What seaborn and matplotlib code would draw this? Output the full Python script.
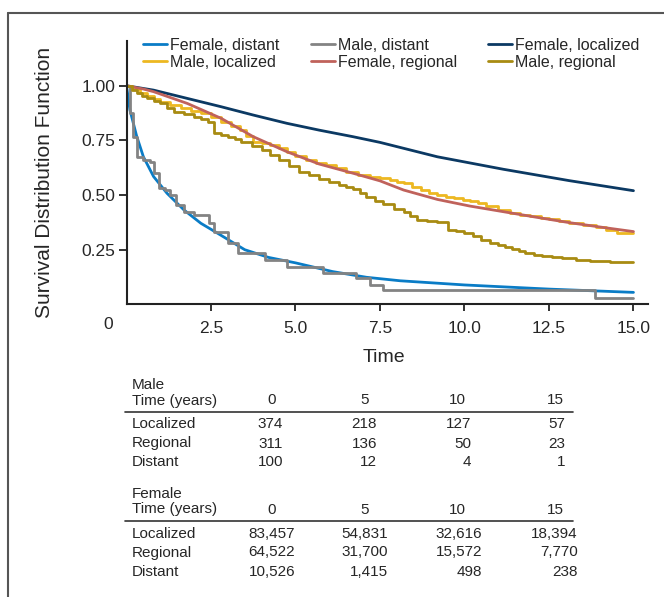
import matplotlib
matplotlib.use('Agg')
import matplotlib.pyplot as plt
import seaborn as sns
from matplotlib.lines import Line2D

# survival curves (time in years, survival)
fem_dist_t = [0, 0.1, 0.3, 0.5, 0.8, 1.2, 1.7, 2.2, 2.7, 3.5, 4.2, 5.0, 6.1, 7.1, 8.1, 10.0, 12.5, 15.0]
fem_dist_s = [1.0, 0.89, 0.77, 0.675, 0.585, 0.508, 0.432, 0.371, 0.325, 0.25, 0.215, 0.19, 0.15, 0.124, 0.108, 0.089, 0.07, 0.055]

male_dist_t = [0, 0.1, 0.2, 0.3, 0.5, 0.7, 0.8, 0.95, 1.15, 1.3, 1.45, 1.7, 2.0, 2.45, 2.6, 3.0, 3.3,
               4.1, 4.75, 5.8, 6.8, 7.2, 7.6, 13.85, 15.0]
male_dist_s = [1.0, 0.874, 0.767, 0.675, 0.66, 0.652, 0.6, 0.531, 0.523, 0.5, 0.455, 0.424, 0.409, 0.371, 0.33, 0.28, 0.234,
               0.203, 0.172, 0.142, 0.119, 0.089, 0.066, 0.031, 0.031]

fem_loc_t = [0, 0.8, 1.8, 2.8, 3.75, 4.75, 5.7, 6.7, 7.5, 9.2, 11.15, 13.1, 15.0]
fem_loc_s = [1.0, 0.98, 0.942, 0.904, 0.866, 0.828, 0.797, 0.767, 0.741, 0.675, 0.618, 0.566, 0.52]

male_loc_t = [0, 0.15, 0.4, 0.6, 0.8, 1.0, 1.3, 1.6, 1.9, 2.2,
              2.5, 2.8, 3.1, 3.35, 3.55, 3.75, 4.0, 4.25, 4.5, 4.75,
              5.0, 5.3, 5.6, 5.9, 6.2, 6.5, 6.85, 7.2, 7.5, 7.8,
              8.0, 8.2, 8.45, 8.7, 8.95, 9.2, 9.45, 9.7, 9.95, 10.15,
              10.4, 10.65, 11.0, 11.35, 11.65, 11.95, 12.25, 12.5, 12.8, 13.1,
              13.5, 13.9, 14.2, 14.5, 15.0]
male_loc_s = [1.0, 0.985, 0.965, 0.952, 0.94, 0.927, 0.912, 0.897, 0.886, 0.874,
              0.855, 0.835, 0.815, 0.797, 0.77, 0.744, 0.737, 0.729, 0.713, 0.698,
              0.68, 0.66, 0.648, 0.637, 0.622, 0.607, 0.594, 0.581, 0.577, 0.569,
              0.562, 0.554, 0.538, 0.523, 0.511, 0.5, 0.492, 0.485, 0.479, 0.474,
              0.462, 0.45, 0.434, 0.419, 0.411, 0.404, 0.396, 0.389, 0.38, 0.371,
              0.361, 0.352, 0.34, 0.328, 0.325]

fem_reg_t = [0, 0.5, 0.8, 1.8, 2.8, 3.75, 4.75, 5.7, 6.7, 7.5, 8.2, 9.2, 10.15, 11.15, 12.15, 13.1, 14.1, 15.0]
fem_reg_s = [1.0, 0.985, 0.973, 0.919, 0.851, 0.767, 0.698, 0.642, 0.6, 0.565, 0.523, 0.48, 0.45, 0.424, 0.398, 0.374, 0.352, 0.333]

male_reg_t = [0, 0.15, 0.3, 0.45, 0.6, 0.8, 1.0, 1.2, 1.4, 1.7,
              2.0, 2.2, 2.4, 2.6, 2.8, 3.0, 3.2, 3.4, 3.7, 4.0,
              4.25, 4.5, 4.8, 5.1, 5.4, 5.7, 6.0, 6.3, 6.5, 6.7,
              6.9, 7.1, 7.35, 7.6, 7.9, 8.2, 8.4, 8.6, 8.9, 9.2,
              9.5, 9.75, 10.0, 10.25, 10.5, 10.75, 11.0, 11.2, 11.4, 11.6,
              11.8, 12.05, 12.3, 12.6, 12.9, 13.3, 13.7, 14.3, 15.0]
male_reg_s = [1.0, 0.98, 0.965, 0.952, 0.942, 0.93, 0.919, 0.9, 0.881, 0.87,
              0.858, 0.846, 0.835, 0.782, 0.775, 0.767, 0.756, 0.744, 0.725, 0.706,
              0.683, 0.66, 0.634, 0.607, 0.59, 0.572, 0.559, 0.546, 0.538, 0.53,
              0.51, 0.49, 0.475, 0.459, 0.435, 0.424, 0.405, 0.386, 0.382, 0.378,
              0.34, 0.334, 0.328, 0.311, 0.294, 0.283, 0.272, 0.262, 0.252, 0.243,
              0.233, 0.227, 0.221, 0.216, 0.211, 0.205, 0.2, 0.196, 0.193]

# number at risk table
time_cols = ['0', '5', '10', '15']
row_names = ['Localized', 'Regional', 'Distant']
male_counts = [[374, 218, 127, 57], [311, 136, 50, 23], [100, 12, 4, 1]]
female_counts = [[83457, 54831, 32616, 18394], [64522, 31700, 15572, 7770], [10526, 1415, 498, 238]]

sns.set_style('ticks')
plt.rcParams['font.family'] = ['Liberation Sans', 'DejaVu Sans']

W, H = 664, 597
fig = plt.figure(figsize=(W / 100, H / 100), dpi=100)
ax = fig.add_axes([126.5 / W, 1 - 304.4 / H, (648 - 126.5) / W, (304.4 - 40.7) / H])


def px(x, y):
    return x / W, 1 - y / H


curves = [
    ('Female, distant', fem_dist_t, fem_dist_s, '#0a7cc6', 'default'),
    ('Male, distant', male_dist_t, male_dist_s, '#838383', 'steps-post'),
    ('Female, localized', fem_loc_t, fem_loc_s, '#0b3963', 'default'),
    ('Male, localized', male_loc_t, male_loc_s, '#edb821', 'steps-post'),
    ('Female, regional', fem_reg_t, fem_reg_s, '#c0625b', 'default'),
    ('Male, regional', male_reg_t, male_reg_s, '#a88b12', 'steps-post'),
]
handles = {}
for name, t, s, col, ds in curves:
    sns.lineplot(x=t, y=s, color=col, lw=2.0, drawstyle=ds, ax=ax, legend=False,
                 estimator=None, sort=False)
    handles[name] = Line2D([], [], color=col, lw=2.0)

ax.set_xlim(0, 15.43)
ax.set_ylim(0, 1.206)
ax.set_xticks([2.5, 5.0, 7.5, 10.0, 12.5, 15.0])
ax.set_xticklabels(['2.5', '5.0', '7.5', '10.0', '12.5', '15.0'])
ax.set_yticks([0.25, 0.5, 0.75, 1.0])
ax.set_yticklabels(['0.25', '0.50', '0.75', '1.00'])
ax.tick_params(axis='x', length=5, width=1.3, pad=7, labelsize=12.5, color='#222222')
ax.tick_params(axis='y', length=6, width=1.3, pad=2, labelsize=12.5, color='#222222')
for side in ['top', 'right']:
    ax.spines[side].set_visible(False)
for side in ['left', 'bottom']:
    ax.spines[side].set_linewidth(1.5)
    ax.spines[side].set_color('#222222')
ax.set_xlabel('')
ax.set_ylabel('')

fig.text(*px(108, 325), '0', fontsize=12.5, ha='center', va='center')
fig.text(*px(384, 358), 'Time', fontsize=14, ha='center', va='center')
fig.text(*px(45, 182), 'Survival Distribution Function', fontsize=15, rotation=90,
         ha='center', va='center')

order = ['Female, distant', 'Male, localized', 'Male, distant', 'Female, regional',
         'Female, localized', 'Male, regional']
fig.legend([handles[n] for n in order], order, ncol=3, loc='upper left',
           bbox_to_anchor=px(143, 38), frameon=False, fontsize=11.5, handlelength=1.5,
           handletextpad=0.2, columnspacing=1.95, labelspacing=0.12, borderpad=0,
           borderaxespad=0)

# figure frame (open at right and bottom)
fig.add_artist(Line2D([8 / W, 8 / W], [0, 1 - 13 / H], color='#555555', lw=1.5))
fig.add_artist(Line2D([8 / W, 1], [1 - 13 / H, 1 - 13 / H], color='#555555', lw=1.5))

# number at risk tables
hdr_right = [276, 369, 466, 564]
male_right = [283, 377, 471, 565]
female_right = [295, 388, 482, 578]
blocks = [('Male', male_counts, male_right, 385),
          ('Female', female_counts, female_right, 494)]
for title, counts, rights, y0 in blocks:
    fig.text(*px(132, y0), title, fontsize=11, ha='left', va='center')
    fig.text(*px(132, y0 + 15.5), 'Time (years)', fontsize=11, ha='left', va='center')
    for lab, xr in zip(time_cols, hdr_right):
        fig.text(*px(xr, y0 + 15.5), lab, fontsize=11, ha='right', va='center')
    ly = 1 - (y0 + 26.5) / H
    fig.add_artist(Line2D([125 / W, 573 / W], [ly, ly], color='#333333', lw=1.2))
    for i, (rname, vals) in enumerate(zip(row_names, counts)):
        yy = y0 + 39.5 + i * 19
        fig.text(*px(132, yy), rname, fontsize=11, ha='left', va='center')
        for v, xr in zip(vals, rights):
            fig.text(*px(xr, yy), f'{v:,}', fontsize=11, ha='right', va='center')

fig.savefig('out.png', dpi=100)
